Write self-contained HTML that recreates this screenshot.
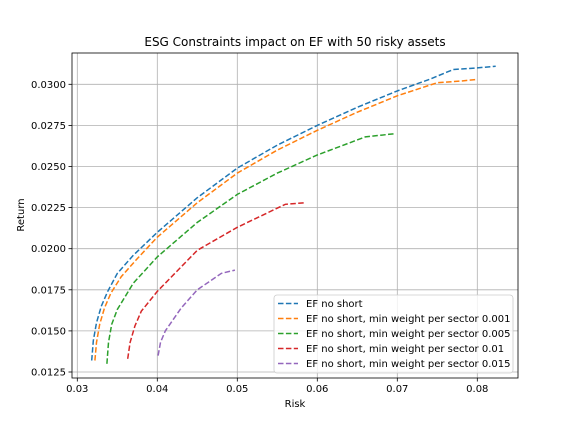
<!DOCTYPE html>
<html><head><meta charset="utf-8"><style>
body{margin:0;background:#fff}
text{font-family:"DejaVu Sans","Liberation Sans",sans-serif}
</style></head><body>
<svg id="chart" width="576" height="432" viewBox="0 0 576 432" xmlns="http://www.w3.org/2000/svg">
<rect width="576" height="432" fill="#fff"/>
<g id="grid"></g><g id="series"></g><g id="axes"></g>
<text x="295" y="46" text-anchor="middle" font-size="12">ESG Constraints impact on EF with 50 risky assets</text>
<text x="295" y="407" text-anchor="middle" font-size="10">Risk</text>
<text transform="translate(24,215) rotate(-90)" text-anchor="middle" font-size="10">Return</text>
<g id="legend"></g>
</svg>
<script>
const xTicks=[0.03,0.04,0.05,0.06,0.07,0.08];
const xTickLabels=["0.03","0.04","0.05","0.06","0.07","0.08"];
const yTicks=[0.0125,0.015,0.0175,0.02,0.0225,0.025,0.0275,0.03];
const yTickLabels=["0.0125","0.0150","0.0175","0.0200","0.0225","0.0250","0.0275","0.0300"];
const seriesNames=["EF no short","EF no short, min weight per sector 0.001","EF no short, min weight per sector 0.005","EF no short, min weight per sector 0.01","EF no short, min weight per sector 0.015"];
const colors=["#1f77b4","#ff7f0e","#2ca02c","#d62728","#9467bd"];
const riskBlue=[0.0318,0.0320,0.0324,0.0330,0.0338,0.035,0.037,0.040,0.045,0.050,0.055,0.060,0.065,0.070,0.074,0.077,0.080,0.0823];
const retBlue=[0.0132,0.0144,0.0155,0.0165,0.0174,0.0185,0.0196,0.0210,0.0231,0.0249,0.0263,0.0275,0.0286,0.0296,0.0303,0.0309,0.0310,0.0311];
const riskOrange=[0.0322,0.0324,0.0328,0.0334,0.0342,0.0355,0.0375,0.040,0.045,0.050,0.055,0.060,0.065,0.070,0.075,0.078,0.080];
const retOrange=[0.0132,0.0143,0.0154,0.0164,0.0173,0.0183,0.0194,0.0207,0.0228,0.0246,0.0260,0.0272,0.0283,0.0293,0.0301,0.0302,0.0303];
const riskGreen=[0.0337,0.0339,0.0343,0.035,0.037,0.040,0.045,0.050,0.055,0.060,0.066,0.0698];
const retGreen=[0.0130,0.0143,0.0154,0.0163,0.0179,0.0195,0.0216,0.0233,0.0246,0.0257,0.0268,0.0270];
const riskRed=[0.0363,0.0366,0.0372,0.038,0.040,0.045,0.050,0.053,0.056,0.0585];
const retRed=[0.0133,0.0143,0.0153,0.0162,0.0174,0.0199,0.0213,0.0220,0.0227,0.0228];
const riskPurple=[0.0401,0.0404,0.041,0.043,0.045,0.048,0.0497];
const retPurple=[0.0135,0.0143,0.0150,0.0164,0.0175,0.0185,0.0187];
const allRisk=[riskBlue,riskOrange,riskGreen,riskRed,riskPurple];
const allRet=[retBlue,retOrange,retGreen,retRed,retPurple];
const L=72,R=518,T=53,B=378;
const xs=v=>77.3+(v-0.03)*8000;
const ys=v=>84.3+(0.03-v)/0.0025*41.1;
const NS="http://www.w3.org/2000/svg";
function mk(tag,attrs,parent){const e=document.createElementNS(NS,tag);for(const k in attrs)e.setAttribute(k,attrs[k]);parent.appendChild(e);return e;}
const grid=document.getElementById('grid'),axes=document.getElementById('axes'),ser=document.getElementById('series'),leg=document.getElementById('legend');
xTicks.forEach((t,i)=>{const x=xs(t);
 const g=mk('line',{x1:x,x2:x,y1:T,y2:B,stroke:'#b0b0b0','stroke-width':0.8},grid);
 
 
 mk('line',{x1:x,x2:x,y1:B,y2:B+3.5,stroke:'#000','stroke-width':0.8},axes);
 const tx=mk('text',{x:x,y:B+14,'text-anchor':'middle','font-size':10},axes);tx.textContent=xTickLabels[i];
 
 });
yTicks.forEach((t,i)=>{const y=ys(t);
 const g=mk('line',{x1:L,x2:R,y1:y,y2:y,stroke:'#b0b0b0','stroke-width':0.8},grid);
 
 
 mk('line',{x1:L-3.5,x2:L,y1:y,y2:y,stroke:'#000','stroke-width':0.8},axes);
 const tx=mk('text',{x:L-6,y:y+3.5,'text-anchor':'end','font-size':10},axes);tx.textContent=yTickLabels[i];
 
 });
const fr=mk('rect',{x:L,y:T,width:R-L,height:B-T,fill:'none',stroke:'#000','stroke-width':0.8},axes);


allRisk.forEach((rk,s)=>{const pts=rk.map((v,i)=>xs(v).toFixed(1)+','+ys(allRet[s][i]).toFixed(1)).join(' ');
 const p=mk('polyline',{points:pts,fill:'none',stroke:colors[s],'stroke-width':1.5,'stroke-dasharray':'5.5,2.4'},ser);
 
 });
const lb=mk('rect',{x:274,y:295,width:239,height:78,rx:3,fill:'#fff','fill-opacity':0.8,stroke:'#ccc','stroke-width':0.8},leg);


seriesNames.forEach((n,s)=>{const y=303.5+s*15;
 mk('line',{x1:278,x2:298,y1:y,y2:y,stroke:colors[s],'stroke-width':1.5,'stroke-dasharray':'5.5,2.4'},leg);
 const tx=mk('text',{x:306,y:y+3.5,'font-size':10},leg);tx.textContent=n;
 
 });
</script>
</body></html>
